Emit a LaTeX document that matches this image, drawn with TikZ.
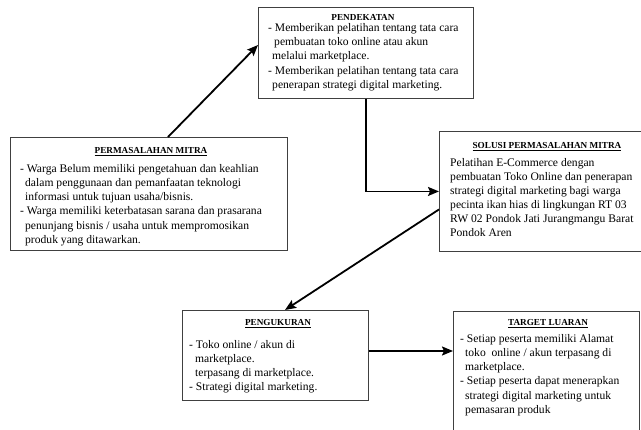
\documentclass[tikz,border=0pt]{standalone}
\usepackage{fontspec}
\setmainfont{Liberation Serif}
\usetikzlibrary{arrows.meta,calc}
\tikzset{
  box/.style={draw=black!75, line width=0.9pt, anchor=north west, inner sep=0pt, fill=white},
  txt/.style={anchor=base west, inner sep=0pt, font=\fontsize{11.6}{14}\selectfont},
  hd/.style={anchor=base, inner sep=0pt, font=\fontsize{9.2}{11}\selectfont\bfseries},
  conn/.style={line width=1.8pt, -{Stealth[length=11pt,width=9pt,inset=2pt]}},
}
\begin{document}
\begin{tikzpicture}[x=1pt,y=-1pt]
\clip (0,0) rectangle (641,430);
\fill[white] (0,0) rectangle (641,430);
% boxes
\node[box, minimum width=215, minimum height=91] (pend) at (258,7) {};
\node[box, minimum width=277, minimum height=113] (perm) at (10,137) {};
\node[box, minimum width=205, minimum height=120] (sol) at (439,131) {};
\node[box, minimum width=186, minimum height=90] (peng) at (182,310) {};
\node[box, minimum width=186, minimum height=130] (targ) at (453,311) {};
% PENDEKATAN
\node[hd] (pendh) at (363,21) {PENDEKATAN};
\node[txt] (pend1) at (268,32) {- Memberikan pelatihan tentang tata cara};
\node[txt] (pend2) at (274,46) {pembuatan toko online atau akun};
\node[txt] (pend3) at (272,60) {melalui marketplace.};
\node[txt] (pend4) at (268,75) {- Memberikan pelatihan tentang tata cara};
\node[txt] (pend5) at (272,89) {penerapan strategi digital marketing.};
% PERMASALAHAN MITRA
\node[hd] (permh) at (151,154) {\underline{PERMASALAHAN MITRA}};
\node[txt] (perm1) at (20,173) {- Warga Belum memiliki pengetahuan dan keahlian};
\node[txt] (perm2) at (25,187) {dalam penggunaan dan pemanfaatan teknologi};
\node[txt] (perm3) at (25,201) {informasi untuk tujuan usaha/bisnis.};
\node[txt] (perm4) at (20,215) {- Warga memiliki keterbatasan sarana dan prasarana};
\node[txt] (perm5) at (25,230) {penunjang bisnis / usaha untuk mempromosikan};
\node[txt] (perm6) at (25,244) {produk yang ditawarkan.};
% SOLUSI
\node[hd] (solh) at (547,149) {\underline{SOLUSI PERMASALAHAN MITRA}};
\node[txt] (sol1) at (450,167) {Pelatihan E-Commerce dengan};
\node[txt] (sol2) at (450,181) {pembuatan Toko Online dan penerapan};
\node[txt] (sol3) at (450,195) {strategi digital marketing bagi warga};
\node[txt] (sol4) at (450,209) {pecinta ikan hias di lingkungan RT 03};
\node[txt] (sol5) at (450,223) {RW 02 Pondok Jati Jurangmangu Barat};
\node[txt] (sol6) at (450,237) {Pondok Aren};
% PENGUKURAN
\node[hd] (pengh) at (278,326) {\underline{PENGUKURAN}};
\node[txt] (peng1) at (189,349) {- Toko online / akun di};
\node[txt] (peng2) at (195,363) {marketplace.};
\node[txt] (peng3) at (195,377) {terpasang di marketplace.};
\node[txt] (peng4) at (189,391) {- Strategi digital marketing.};
% TARGET LUARAN
\node[hd] (targh) at (548,326) {\underline{TARGET LUARAN}};
\node[txt] (targ1) at (460,343) {- Setiap peserta memiliki Alamat};
\node[txt] (targ2) at (465,357) {toko\ \ online / akun terpasang di};
\node[txt] (targ3) at (465,371) {marketplace.};
\node[txt] (targ4) at (460,385) {- Setiap peserta dapat menerapkan};
\node[txt] (targ5) at (465,400) {strategi digital marketing untuk};
\node[txt] (targ6) at (465,414) {pemasaran produk};
% connectors
\draw[conn] ($(perm.north west)+(158,0)$) -- ($(pend.north west)+(0,38)$);
\draw[conn, rounded corners=0pt] (pend.south) |- (sol.west);
\draw[conn] ($(sol.west)+(0,18)$) -- ($(peng.north west)+(103,0)$);
\draw[conn] ($(peng.north east)+(0,41)$) -- ($(targ.north west)+(0,40)$);
\end{tikzpicture}
\end{document}
